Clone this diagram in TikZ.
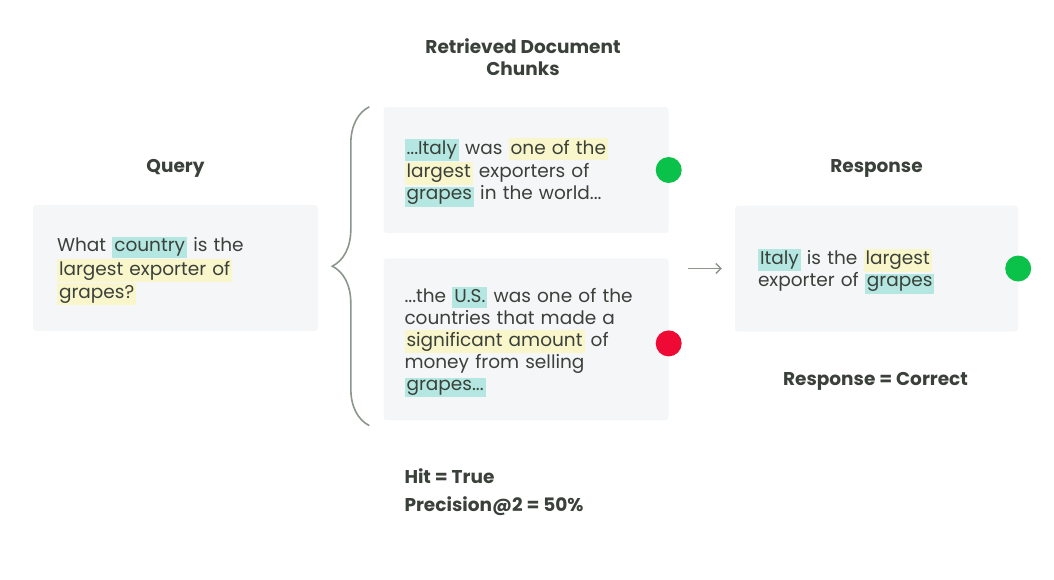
\documentclass[tikz,border=0pt]{standalone}
\usepackage{fontspec}
\setmainfont{Poppins}
\usetikzlibrary{arrows.meta, positioning, calc, decorations.pathreplacing}
\definecolor{cardGray}{RGB}{245, 246, 248}
\definecolor{inkDark}{RGB}{58, 64, 58}
\definecolor{hlTeal}{RGB}{180, 231, 225}
\definecolor{hlYellow}{RGB}{250, 246, 204}
\definecolor{hitGreen}{RGB}{10, 194, 74}
\definecolor{missRed}{RGB}{238, 10, 53}
\definecolor{braceGray}{RGB}{140, 150, 140}
\newcommand{\hlT}[1]{{\setlength{\fboxsep}{2pt}\colorbox{hlTeal}{\rule[-4pt]{0pt}{14pt}#1}}}
\newcommand{\hlY}[1]{{\setlength{\fboxsep}{2pt}\colorbox{hlYellow}{\rule[-4pt]{0pt}{14pt}#1}}}
\tikzset{
    % Base Card Style
    card/.style={
        rectangle,
        rounded corners=3pt,
        fill=cardGray,
        minimum width=285pt,
        minimum height=126pt,
        text width=243pt,
        inner xsep=21pt,
        align=left,
        font=\fontsize{18.5}{22}\selectfont,
        text=inkDark,
        execute at begin node={\rule{0pt}{21pt}\ignorespaces}
    },
    % Labels & Markers
    colTitle/.style={font=\bfseries\fontsize{18.5}{22}\selectfont, text=inkDark, align=center, inner sep=0pt},
    metric/.style={font=\bfseries\fontsize{18.5}{22}\selectfont, text=inkDark, inner sep=0pt},
    dotHit/.style={circle, fill=hitGreen, minimum size=26pt, inner sep=0pt},
    dotMiss/.style={circle, fill=missRed, minimum size=26pt, inner sep=0pt},
    arrow/.style={-{Straight Barb[length=5pt, width=10pt]}, line width=1.3pt, draw=braceGray},
    curly/.style={decorate, decoration={brace, amplitude=37pt}, line width=1.6pt, draw=braceGray}
}
\begin{document}
\begin{tikzpicture}[x=1pt, y=-1pt]

    \useasboundingbox (0,0) rectangle (1054,579);

    % --- QUERY ---
    \node (queryBox) [card, inner xsep=24pt, text width=237pt] at (175.5,268) {
        What \hlT{country} is the\\
        \hlY{largest exporter of}\\
        \hlY{grapes?}
    };
    \node (queryTitle) [colTitle] at ($(queryBox.north)+(0,-36)$) {Query};

    % --- RETRIEVED CHUNKS ---
    \node (chunkA) [card] at (526,170) {
        \hlT{...Italy} was \hlY{one of the}\\
        \hlY{largest} exporters of\\
        \hlT{grapes} in the world...
    };
    \node (chunkB) [card, minimum height=162pt, below=25pt of chunkA] {
        ...the \hlT{U.S.} was one of the\\
        countries that made a\\
        \hlY{significant amount} of\\
        money from selling\\
        \hlT{grapes...}
    };
    \node (chunkTitle) [colTitle] at ($(chunkA.north)+(-3,-50)$) {Retrieved Document\\Chunks};

    \node (dotA) [dotHit] at (chunkA.east) {};
    \node (dotB) [dotMiss] at ($(chunkB.east)+(0,4)$) {};

    % --- Brace & Arrow ---
    \coordinate (braceTop) at ($(chunkA.north west)+(-14,0)$);
    \coordinate (braceBot) at ($(chunkB.south west)+(-14,5)$);
    \draw [curly] (braceBot) -- (braceTop);

    % --- RESPONSE ---
    \node (respBox) [card, minimum width=283pt, text width=237pt, inner xsep=23pt] at (876.5,268.5) {
        \hlT{Italy} is the \hlY{largest}\\
        exporter of \hlT{grapes}
    };
    \node (respTitle) [colTitle] at ($(respBox.north)+(0,-37)$) {Response};
    \node (dotR) [dotHit] at (respBox.east) {};
    \node (respVerdict) [colTitle] at ($(respBox.south)+(-1,50)$) {Response = Correct};

    \coordinate (arrowTail) at ($(respBox.west)+(-47,0)$);
    \coordinate (arrowTip) at ($(respBox.west)+(-13,0)$);
    \draw [arrow] (arrowTail) -- (arrowTip);

    % --- Metrics ---
    \node (hitLabel) [metric, anchor=west] at ($(chunkB.south west)+(21,56)$) {Hit = True};
    \node (precLabel) [metric, anchor=west] at ($(hitLabel.west)+(0,30)$) {Precision@2 = 50\%};

\end{tikzpicture}
\end{document}
